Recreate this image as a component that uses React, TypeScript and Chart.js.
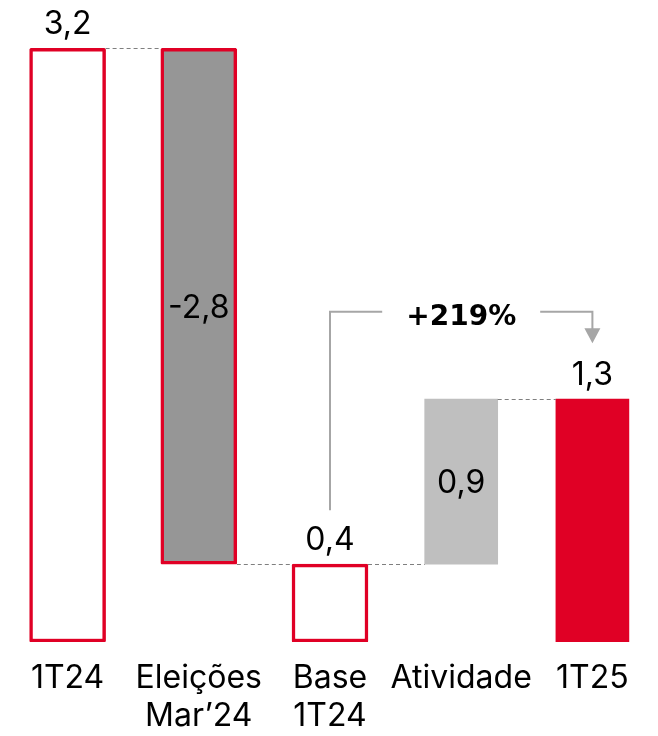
import React, { useEffect, useRef } from "react";
import { Chart, registerables } from "chart.js";

Chart.register(...registerables);

// ---- data ----
const categories: string[][] = [["1T24"], ["Eleições", "Mar’24"], ["Base", "1T24"], ["Atividade"], ["1T25"]];
const barStarts = [0, 0.42, 0, 0.42, 0];
const barEnds = [3.2, 3.2, 0.42, 1.31, 1.31];
const valueLabels = ["3,2", "-2,8", "0,4", "0,9", "1,3"];
const labelInside = [false, true, false, true, false];
const barFills = ["#FFFFFF", "#969696", "#FFFFFF", "#BFBFBF", "#E00025"];
const outlined = [true, true, true, false, false];
const connectorLevels = [3.2, 0.42, 0.42, 1.31];
const growthLabel = "+219%";
const growthFrom = 2;
const growthTo = 4;
const bracketLevel = 1.78;
const bracketStartLevel = 0.71;
const arrowTipLevel = 1.61;

const RED = "#E00025";
const FONT = "Inter, 'DejaVu Sans', sans-serif";

const App: React.FC = () => {
  const ref = useRef<HTMLCanvasElement | null>(null);

  useEffect(() => {
    document.body.style.margin = "0";
    const canvas = ref.current;
    if (!canvas) return;

    const elementAt = (chart: any, i: number) => {
      for (let d = 0; d < chart.data.datasets.length; d++) {
        const meta = chart.getDatasetMeta(d);
        const raw = chart.data.datasets[d].data[i];
        if (raw) return meta.data[i];
      }
      return null;
    };

    const overlay = {
      id: "overlay",
      afterDatasetsDraw(chart: any) {
        const ctx = chart.ctx;
        const y = chart.scales.y;
        ctx.save();
        // connectors
        ctx.strokeStyle = "#7F7F7F";
        ctx.lineWidth = 1;
        ctx.setLineDash([4, 3]);
        connectorLevels.forEach((lv, i) => {
          const a = elementAt(chart, i);
          const b = elementAt(chart, i + 1);
          if (!a || !b) return;
          const py = Math.round(y.getPixelForValue(lv)) + 0.5;
          ctx.beginPath();
          ctx.moveTo(a.x + a.width / 2, py);
          ctx.lineTo(b.x - b.width / 2, py);
          ctx.stroke();
        });
        ctx.setLineDash([]);

        // value labels
        ctx.fillStyle = "#000";
        ctx.font = `32px ${FONT}`;
        ctx.textAlign = "center";
        ctx.textBaseline = "alphabetic";
        valueLabels.forEach((t, i) => {
          const el = elementAt(chart, i);
          if (!el) return;
          const top = Math.min(el.y, el.base);
          const bottom = Math.max(el.y, el.base);
          if (labelInside[i]) {
            ctx.fillText(t, el.x, (top + bottom) / 2 + 11.5);
          } else {
            ctx.fillText(t, el.x, top - 14);
          }
        });

        // growth bracket
        const a = elementAt(chart, growthFrom);
        const b = elementAt(chart, growthTo);
        const mid = elementAt(chart, 3);
        if (a && b && mid) {
          const ly = y.getPixelForValue(bracketLevel);
          const y0 = y.getPixelForValue(bracketStartLevel);
          const tip = y.getPixelForValue(arrowTipLevel);
          ctx.strokeStyle = "#A6A6A6";
          ctx.fillStyle = "#A6A6A6";
          ctx.lineWidth = 2;
          ctx.beginPath();
          ctx.moveTo(a.x, y0);
          ctx.lineTo(a.x, ly);
          ctx.lineTo(mid.x - 79, ly);
          ctx.moveTo(mid.x + 79, ly);
          ctx.lineTo(b.x, ly);
          ctx.lineTo(b.x, tip - 14);
          ctx.stroke();
          ctx.beginPath();
          ctx.moveTo(b.x - 8, tip - 15);
          ctx.lineTo(b.x + 8, tip - 15);
          ctx.lineTo(b.x, tip);
          ctx.closePath();
          ctx.fill();
          ctx.fillStyle = "#000";
          ctx.font = "bold 28px 'DejaVu Sans', sans-serif";
          ctx.fillText(growthLabel, mid.x, ly + 13);
        }
        ctx.restore();
      },
    };

    const chart = new Chart(canvas, {
      type: "bar",
      data: {
        labels: categories,
        datasets: [
          {
            data: categories.map((_, i) => (outlined[i] ? [barStarts[i], barEnds[i]] : null)) as any,
            backgroundColor: barFills,
            borderColor: RED,
            borderWidth: 3.5,
            borderSkipped: false,
            borderRadius: 1.5,
            barThickness: 76,
            grouped: false,
          },
          {
            data: categories.map((_, i) => (!outlined[i] ? [barStarts[i], barEnds[i]] : null)) as any,
            backgroundColor: barFills,
            borderWidth: 0,
            barThickness: 73,
            grouped: false,
          },
        ],
      },
      options: {
        responsive: false,
        animation: false,
        layout: { padding: { left: 2, right: 0, top: 0, bottom: 0 } },
        plugins: { legend: { display: false }, tooltip: { enabled: false } },
        scales: {
          x: {
            grid: { display: false, drawTicks: false },
            border: { display: false },
            ticks: {
              color: "#000",
              font: { family: FONT, size: 32, lineHeight: 1.2 },
              padding: 17,
              maxRotation: 0,
              autoSkip: false,
            },
            afterFit: (scale: any) => {
              scale.height = 94;
            },
          },
          y: {
            display: false,
            min: 0,
            max: 3.461,
          },
        },
      },
      plugins: [overlay],
    });
    return () => chart.destroy();
  }, []);

  return <canvas ref={ref} width={658} height={736} style={{ display: "block" }} />;
};

export default App;
